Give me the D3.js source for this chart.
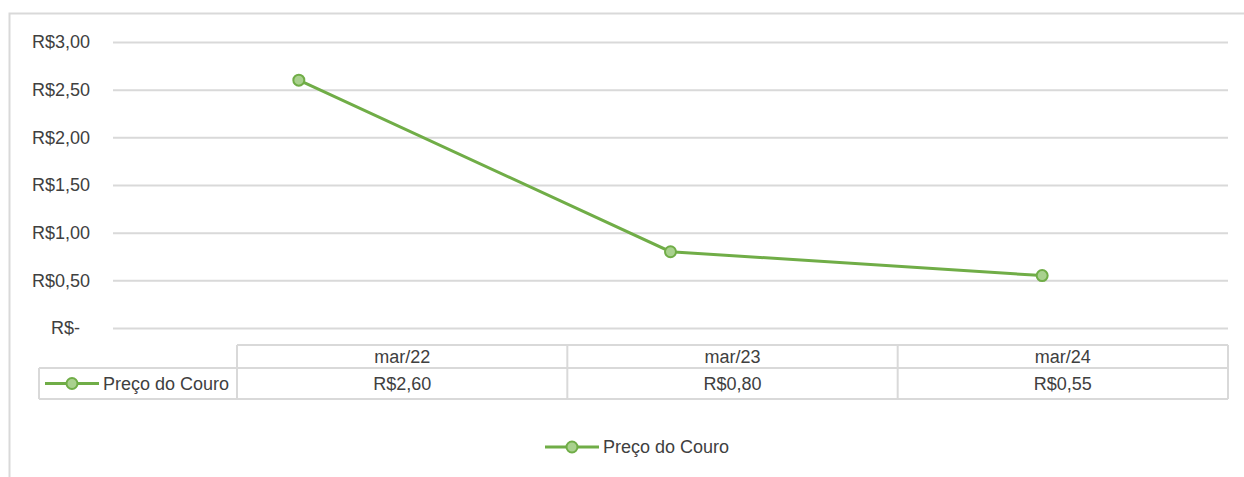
<!DOCTYPE html>
<html>
<head>
<meta charset="utf-8">
<script src="https://cdn.jsdelivr.net/npm/d3@7"></script>
<style>
  body { margin: 0; background: #fff; }
  svg { display: block; font-family: "Liberation Sans", Arial, sans-serif; }
</style>
</head>
<body>
<svg id="chart"></svg>
<script>
// data
const categories = ["mar/22", "mar/23", "mar/24"];
const seriesName = "Preço do Couro";
const values = [2.60, 0.80, 0.55];
const yTicks = [0, 0.5, 1, 1.5, 2, 2.5, 3];

const W = 1244, H = 477;
const green = "#70ad47", greenFill = "#a9d18e", grid = "#d9d9d9", textCol = "#404040";
const fontSize = 18;

const fmt = v => v === 0 ? "R$-" : "R$" + d3.format(".2f")(v).replace(".", ",");

const svg = d3.select("#chart").attr("width", W).attr("height", H);

// outer chart border (only top and left visible)
svg.append("path")
    .attr("d", `M9.5,${H} V13.5 H${W}`)
    .attr("fill", "none")
    .attr("stroke", grid)
    .attr("stroke-width", 2);

const plot = {left: 113, right: 1228, top: 42, bottom: 328};

const x = d3.scaleBand().domain(categories).range([plot.left, plot.right]);
const y = d3.scaleLinear().domain([0, 3]).range([plot.bottom, plot.top]);

// gridlines + y labels
const yAxis = d3.axisLeft(y)
    .tickValues(yTicks)
    .tickSize(-(plot.right - plot.left))
    .tickPadding(23)
    .tickFormat(fmt);

svg.append("g")
    .attr("transform", `translate(${plot.left},0)`)
    .call(yAxis)
    .call(g => g.select(".domain").remove())
    .call(g => g.selectAll(".tick line").attr("stroke", grid).attr("stroke-width", 2))
    .call(g => g.selectAll(".tick text")
        .attr("fill", textCol)
        .attr("font-size", fontSize)
        .attr("dx", d => d === 0 ? -10 : 0));

// line
const line = d3.line()
    .x((d, i) => x(categories[i]) + x.bandwidth() / 2)
    .y(d => y(d));

svg.append("path")
    .datum(values)
    .attr("d", line)
    .attr("fill", "none")
    .attr("stroke", green)
    .attr("stroke-width", 3);

svg.append("g").selectAll("circle")
    .data(values)
    .join("circle")
    .attr("cx", (d, i) => x(categories[i]) + x.bandwidth() / 2)
    .attr("cy", d => y(d))
    .attr("r", 5.5)
    .attr("fill", greenFill)
    .attr("stroke", green)
    .attr("stroke-width", 2);

// data table
const tbl = {keyLeft: 39, left: 237, right: 1228, top: 345, mid: 368, bottom: 399};
const tx = d3.scaleBand().domain(categories).range([tbl.left, tbl.right]);
const t = svg.append("g");

function seg(x1, y1, x2, y2) {
  t.append("line").attr("x1", x1).attr("y1", y1).attr("x2", x2).attr("y2", y2)
      .attr("stroke", grid).attr("stroke-width", 2);
}
seg(tbl.left, tbl.top, tbl.right, tbl.top);
seg(tbl.keyLeft, tbl.mid, tbl.right, tbl.mid);
seg(tbl.keyLeft, tbl.bottom, tbl.right, tbl.bottom);
seg(tbl.keyLeft, tbl.mid, tbl.keyLeft, tbl.bottom);
seg(tbl.left, tbl.top, tbl.left, tbl.bottom);
categories.forEach(c => seg(tx(c) + tx.bandwidth(), tbl.top, tx(c) + tx.bandwidth(), tbl.bottom));

t.selectAll("text.cat")
    .data(categories)
    .join("text")
    .attr("class", "cat")
    .attr("x", d => tx(d) + tx.bandwidth() / 2)
    .attr("y", (tbl.top + tbl.mid) / 2)
    .attr("dy", "0.35em")
    .attr("text-anchor", "middle")
    .attr("font-size", fontSize)
    .attr("fill", textCol)
    .text(d => d);

t.selectAll("text.val")
    .data(values)
    .join("text")
    .attr("class", "val")
    .attr("x", (d, i) => tx(categories[i]) + tx.bandwidth() / 2)
    .attr("y", (tbl.mid + tbl.bottom) / 2)
    .attr("dy", "0.35em")
    .attr("text-anchor", "middle")
    .attr("font-size", fontSize)
    .attr("fill", textCol)
    .text(fmt);

// legend key, used in the table and below it
function legendKey(g, x0, yc) {
  g.append("line").attr("x1", x0).attr("x2", x0 + 54).attr("y1", yc).attr("y2", yc)
      .attr("stroke", green).attr("stroke-width", 3);
  g.append("circle").attr("cx", x0 + 27).attr("cy", yc).attr("r", 5.5)
      .attr("fill", greenFill).attr("stroke", green).attr("stroke-width", 2);
  g.append("text").attr("x", x0 + 58).attr("y", yc).attr("dy", "0.35em")
      .attr("font-size", fontSize).attr("fill", textCol).text(seriesName);
}
legendKey(t, 45, (tbl.mid + tbl.bottom) / 2);
legendKey(svg.append("g"), 545, 447);
</script>
</body>
</html>
